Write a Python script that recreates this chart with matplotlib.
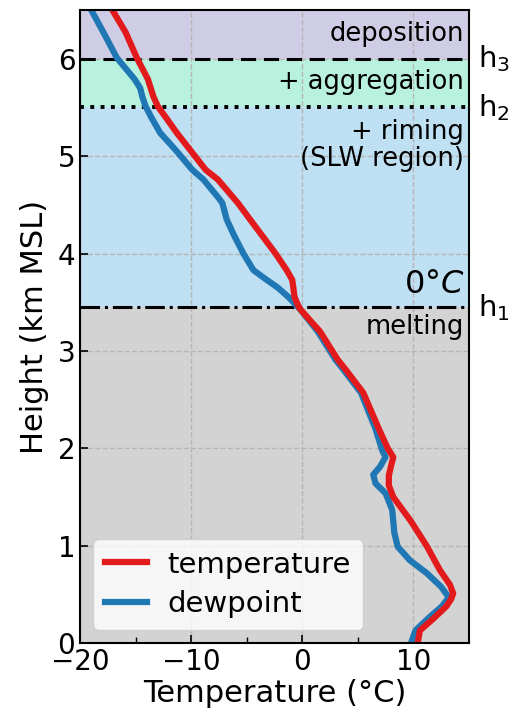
import matplotlib
matplotlib.use("Agg")
import matplotlib.pyplot as plt

# профили (км MSL, °C)
height_t = [0.0, 0.13, 0.25, 0.38, 0.45, 0.51, 0.6, 0.75, 1.0, 1.25, 1.5, 1.62, 1.72, 1.82, 1.91,
            2.0, 2.2, 2.57, 2.81, 2.91, 3.2, 3.43, 3.5, 3.56, 3.65, 3.73, 3.83, 4.0,
            4.35, 4.52, 4.76, 4.86, 5.05, 5.24, 5.4, 5.51, 5.61, 5.79, 6.01, 6.27, 6.5]
temperature = [10.4, 10.6, 11.8, 13.0, 13.4, 13.6, 13.3, 12.4, 11.2, 9.8, 8.2, 7.8, 7.8, 8.0, 8.2,
               7.7, 6.9, 5.5, 3.9, 3.2, 1.6, -0.2, -0.5, -0.7, -0.8, -0.9, -1.4, -2.4,
               -4.7, -5.8, -7.6, -8.7, -10.0, -11.3, -12.3, -13.0, -13.4, -13.9, -14.9, -15.9, -17.1]

height_d = [0.0, 0.13, 0.25, 0.38, 0.47, 0.58, 0.72, 0.85, 0.99, 1.13, 1.37, 1.54, 1.64, 1.73,
            1.81, 1.91, 1.98, 2.2, 2.57, 2.81, 2.91, 3.2, 3.43, 3.56, 3.65, 3.73, 3.83, 4.0,
            4.2, 4.35, 4.52, 4.58, 4.76, 4.86, 5.05, 5.24, 5.4, 5.51, 5.61, 5.7, 5.79, 5.9, 6.01, 6.27, 6.5]
dewpoint = [9.8, 10.2, 11.3, 12.6, 13.2, 12.5, 11.2, 9.7, 8.6, 8.3, 8.1, 7.5, 6.6, 6.4,
            7.0, 7.5, 7.2, 6.6, 5.3, 3.7, 3.0, 1.4, -0.2, -1.3, -2.2, -3.2, -4.4, -5.3,
            -6.2, -6.8, -7.2, -7.6, -8.9, -9.9, -11.3, -12.8, -13.6, -14.1, -14.4, -14.6, -15.1, -15.9, -16.7, -17.9, -19.0]

h1, h2, h3 = 3.45, 5.5, 6.0
bands = [(0, h1, "#d3d3d3"), (h1, h2, "#bfdff3"), (h2, h3, "#b9f1df"), (h3, 6.5, "#cfcde5")]

fig = plt.figure(figsize=(5.14, 7.21), dpi=100)
ax = fig.add_axes([0.156, 0.108, 0.756, 0.878])

for lo, hi, c in bands:
    ax.axhspan(lo, hi, color=c, zorder=0, lw=0)
ax.axhline(h3, color="k", ls=(0, (5, 2.5)), lw=2.2, zorder=2)
ax.axhline(h2, color="k", ls=":", lw=2.8, zorder=2)
ax.axhline(h1, color="k", ls="-.", lw=2.2, zorder=2)

ax.plot(temperature, height_t, color="#e31a1c", lw=4.5, label="temperature", zorder=4,
        solid_joinstyle="round")
ax.plot(dewpoint, height_d, color="#1f77b4", lw=4.5, label="dewpoint", zorder=3,
        solid_joinstyle="round")

ax.set_xlim(-20, 15)
ax.set_ylim(0, 6.5)
ax.set_xticks([-20, -10, 0, 10])
ax.set_xticks([-15, -5, 5], minor=True)
ax.set_yticks(range(7))
ax.tick_params(direction="in", labelsize=20, length=6, width=1.2)
ax.tick_params(which="minor", direction="in", length=4, width=1.0)
ax.grid(True, ls="--", color="#b5b5b5", lw=1.0, zorder=1)
for s in ax.spines.values():
    s.set_linewidth(1.5)
    s.set_zorder(5)

ax.set_xlabel("Temperature (°C)", fontsize=22, labelpad=2)
ax.set_ylabel("Height (km MSL)", fontsize=22, labelpad=6)

txt = dict(ha="right", fontsize=18.5, zorder=6)
ax.text(14.6, 6.25, "deposition", va="center", **txt)
ax.text(14.6, 5.76, "+ aggregation", va="center", **txt)
ax.text(14.6, 5.11, "+ riming\n(SLW region)", va="center", linespacing=1.05, **txt)
ax.text(14.6, 3.25, "melting", va="center", **txt)
ax.text(14.6, 3.52, "$0°C$", ha="right", va="bottom", fontsize=23, zorder=6)

for h, lab in [(h3, "h$_3$"), (h2, "h$_2$"), (h1, "h$_1$")]:
    ax.text(1.025, h, lab, transform=ax.get_yaxis_transform(), fontsize=21,
            ha="left", va="center", clip_on=False)

leg = ax.legend(loc="lower left", fontsize=21, framealpha=0.8, handlelength=1.45,
                borderaxespad=0.45, labelspacing=0.4, handletextpad=0.7)
leg.set_zorder(7)

fig.savefig("out.png", dpi=100)
